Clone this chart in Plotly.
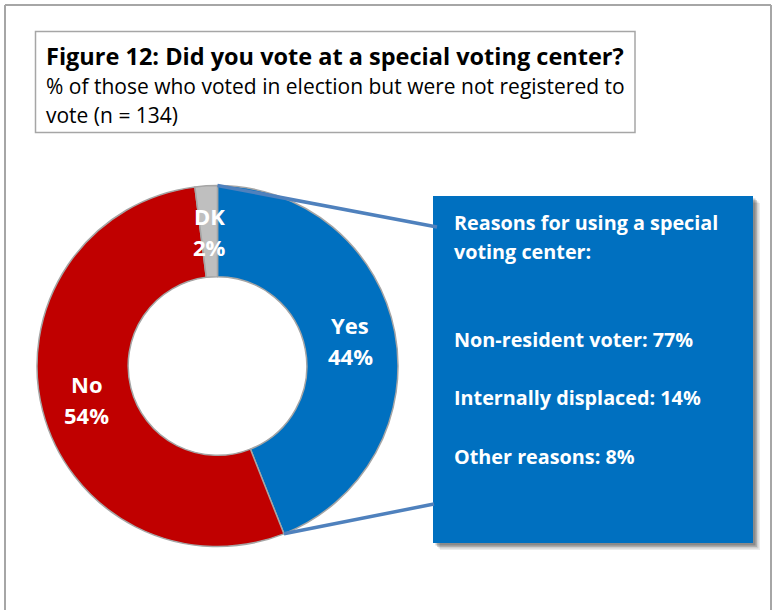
import math
import plotly.graph_objects as go

# Survey answers
answers = ["Yes", "No", "DK"]
shares = [44, 54, 2]
slice_colors = ["#0070C0", "#C00000", "#BFBFBF"]

# Follow-up question shown in the call-out box
reason_heading = ["Reasons for using a special", "voting center:"]
reason_names = ["Non-resident voter", "Internally displaced", "Other reasons"]
reason_shares = [77, 14, 8]

title_text = "Figure 12: Did you vote at a special voting center?"
subtitle_lines = ["% of those who voted in election but were not registered to",
                  "vote (n = 134)"]

W, H = 773, 610
FONT = "Open Sans"


def px(x):
    return x / W


def py(y):
    return 1 - y / H


# donut geometry in pixels
CX, CY, R_OUT = 217.5, 366.0, 180.5
HOLE = 0.495
R_IN = R_OUT * HOLE

fig = go.Figure(go.Pie(
    labels=answers,
    values=shares,
    sort=False,
    direction="clockwise",
    rotation=0,
    hole=HOLE,
    marker=dict(colors=slice_colors, line=dict(color="#A5A5A5", width=1.5)),
    textinfo="none",
    hoverinfo="label+percent",
    showlegend=False,
    domain=dict(x=[px(CX - R_OUT), px(CX + R_OUT)],
                y=[py(CY + R_OUT), py(CY - R_OUT)]),
))

shapes = []
annotations = []

# outer frame of the figure
frame_col = "#A6A6A6"
shapes.append(dict(type="line", xref="paper", yref="paper", x0=px(5), x1=px(5), y0=py(5), y1=py(615),
                   line=dict(color=frame_col, width=2)))
shapes.append(dict(type="line", xref="paper", yref="paper", x0=px(5), x1=px(771), y0=py(5), y1=py(5),
                   line=dict(color=frame_col, width=2)))
shapes.append(dict(type="line", xref="paper", yref="paper", x0=px(771), x1=px(771), y0=py(5), y1=py(615),
                   line=dict(color=frame_col, width=2)))

# title box
shapes.append(dict(type="rect", xref="paper", yref="paper", x0=px(35.5), x1=px(635), y0=py(31.5), y1=py(132.5),
                   line=dict(color="#A6A6A6", width=1.5), fillcolor="white"))
annotations.append(dict(text="<b>" + title_text + "</b>", x=px(44), y=py(56), xref="paper", yref="paper",
                        xanchor="left", yanchor="middle", showarrow=False,
                        font=dict(family=FONT, size=23.5, color="black")))
for i, line in enumerate(subtitle_lines):
    annotations.append(dict(text=line, x=px(44), y=py(86 + 29.5 * i), xref="paper", yref="paper",
                            xanchor="left", yanchor="middle", showarrow=False,
                            font=dict(family=FONT, size=21, color="black")))

# call-out box with soft shadow
BX0, BX1, BY0, BY1 = 433, 753, 196, 543
for off, op in [(7, 0.08), (5.5, 0.12), (4, 0.16), (2.5, 0.2)]:
    shapes.append(dict(type="rect", xref="paper", yref="paper",
                       x0=px(BX0 + off), x1=px(BX1 + off), y0=py(BY0 + off), y1=py(BY1 + off),
                       line=dict(width=0), fillcolor="black", opacity=op))
shapes.append(dict(type="rect", xref="paper", yref="paper", x0=px(BX0), x1=px(BX1), y0=py(BY0), y1=py(BY1),
                   line=dict(width=0), fillcolor="#0070C0"))

# connector lines from the Yes slice edges to the call-out box
yes_end = 2 * math.pi * shares[0] / sum(shares)
edge_pts = [(CX, CY - R_OUT),
            (CX + R_OUT * math.sin(yes_end), CY - R_OUT * math.cos(yes_end))]
box_pts = [(437, 227), (434, 504)]
for (x0, y0), (x1, y1) in zip(edge_pts, box_pts):
    shapes.append(dict(type="line", xref="paper", yref="paper", x0=px(x0), y0=py(y0), x1=px(x1), y1=py(y1),
                       line=dict(color="#4F81BD", width=3.5)))

box_font = dict(family=FONT, size=19.8, color="white")
tx = 452
for i, line in enumerate(reason_heading):
    annotations.append(dict(text="<b>" + line + "</b>", x=px(tx), y=py(222 + 29 * i), xref="paper", yref="paper",
                            xanchor="left", yanchor="middle", showarrow=False, font=box_font))
for i, (name, val) in enumerate(zip(reason_names, reason_shares)):
    annotations.append(dict(text="<b>%s: %d%%</b>" % (name, val), x=px(tx), y=py(339 + 58.5 * i),
                            xref="paper", yref="paper", xanchor="left", yanchor="middle",
                            showarrow=False, font=box_font))

# slice labels placed on each slice's mid-angle
total = sum(shares)
cum = 0
r_mid = (R_OUT + R_IN) / 2
for name, val in zip(answers, shares):
    mid = 2 * math.pi * (cum + val / 2) / total
    cum += val
    lx = CX + r_mid * math.sin(mid)
    ly = CY - r_mid * math.cos(mid)
    for j, t in enumerate([name, "%d%%" % val]):
        annotations.append(dict(text="<b>" + t + "</b>", x=px(lx), y=py(ly - 15.5 + 31 * j),
                                xref="paper", yref="paper", xanchor="center", yanchor="middle",
                                showarrow=False, font=dict(family=FONT, size=22, color="white")))

fig.update_layout(
    width=W, height=H,
    margin=dict(l=0, r=0, t=0, b=0),
    paper_bgcolor="white",
    plot_bgcolor="white",
    shapes=shapes,
    annotations=annotations,
)

fig.write_html("out.html")
